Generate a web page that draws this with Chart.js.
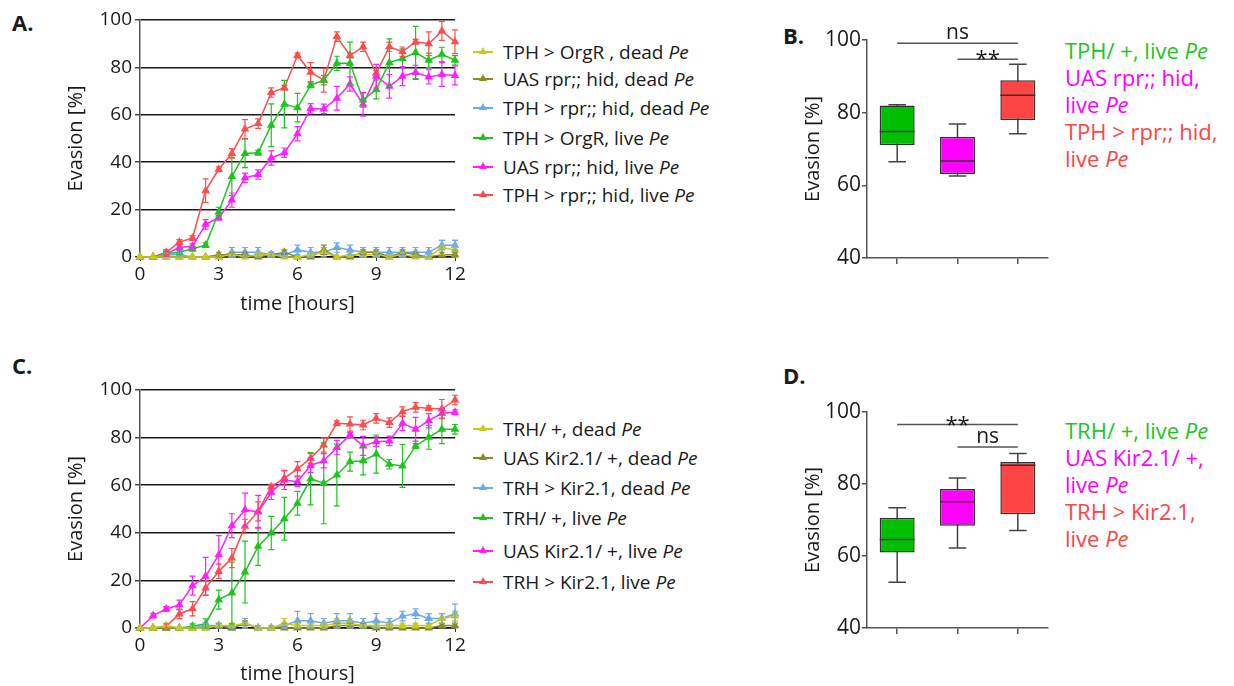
<!DOCTYPE html>
<html>
<head>
<meta charset="utf-8">
<script src="https://cdn.jsdelivr.net/npm/chart.js@4.4.1/dist/chart.umd.min.js"></script>
<style>
  body { margin: 0; width: 1234px; height: 686px; overflow: hidden; background: #fff;
         font-family: 'Open Sans', sans-serif; color: #1a1a1a; position: relative; }
  canvas { position: absolute; }
  .tag { position: absolute; font-weight: bold; font-size: 22px; line-height: 22px; }
  .legend { position: absolute; font-size: 19px; }
  .legend .row { position: absolute; left: 0; display: flex; align-items: center; white-space: nowrap; height: 28px; }
  .mk { position: relative; width: 20px; height: 1.5px; margin-right: 10px; }
  .mk::after { content: ''; position: absolute; left: 6px; top: -4px;
               border-left: 4px solid transparent; border-right: 4px solid transparent;
               border-bottom: 7px solid currentColor; }
  .boxlegend { position: absolute; left: 1065px; font-size: 22px; line-height: 27px; white-space: nowrap; }
</style>
</head>
<body>
<div class="tag" style="left:12px; top:11px;">A.</div>
<div class="tag" style="left:783px; top:24px;">B.</div>
<div class="tag" style="left:12px; top:354px;">C.</div>
<div class="tag" style="left:783px; top:364px;">D.</div>

<canvas id="chartA" width="470" height="320" style="left:0; top:0;"></canvas>
<canvas id="chartC" width="470" height="320" style="left:0; top:370px;"></canvas>
<canvas id="chartB" width="280" height="290" style="left:780px; top:0;"></canvas>
<canvas id="chartD" width="280" height="290" style="left:780px; top:370px;"></canvas>

<div class="legend" id="legendA" style="left:473px; top:38px;"></div>
<div class="legend" id="legendC" style="left:473px; top:415px;"></div>
<div class="boxlegend" id="legendB" style="top:37px;"></div>
<div class="boxlegend" id="legendD" style="top:417px;"></div>

<script>
// time points (hours)
const timeH = [0, 0.5, 1, 1.5, 2, 2.5, 3, 3.5, 4, 4.5, 5, 5.5, 6, 6.5, 7, 7.5, 8, 8.5, 9, 9.5, 10, 10.5, 11, 11.5, 12];
const xTicks = [0, 3, 6, 9, 12];
const yTicksLine = [0, 20, 40, 60, 80, 100];
const yTicksBox = [40, 60, 80, 100];

const seriesColors = ['#c8c81e', '#8b8b25', '#6aaaf2', '#1fc41f', '#ff1fff', '#ff4d4d'];

// panel A
const aNames = ['TPH > OrgR , dead', 'UAS rpr;; hid, dead', 'TPH > rpr;; hid, dead',
                'TPH > OrgR, live', 'UAS rpr;; hid, live', 'TPH > rpr;; hid, live'];
const aYellow  = [0,0,0,0,0,0,0,1,0,1,1,0,0,1,2,0,1,1,1,0,1,0,0,4,3];
const aOlive   = [0,0,0,0,0,0,1,1,1,0,1,2,0,0,3,0,0,2,2,0,2,1,0,1,1];
const aBlue    = [0,0,1,1,0,0,0,2,2,2,1,1,3,2,2,4,3,2,2,2,2,2,2,5,5];
const aGreen   = [0,0,1.4,2,3.5,5,19,34,43.7,44,55.6,64.5,63,72.5,74.6,81.7,81.7,66.2,70.7,82,83.8,86.3,83,85.5,83];
const aMagenta = [0,0,1.4,4,4.5,13.8,16.6,24,33.4,34.8,41.8,44,52,62.7,62.5,67,73,64.4,76.3,72,76.3,77.9,76,77,76.6];
const aRed     = [0,0,2,6.3,8,28,37,43.7,54,56.3,69.4,71.4,85,78,74.6,93,85,88.7,77.5,88.7,86.6,90.8,90,95.4,90.8];
const aYellowErr  = [0,0,0,0,0,0,0,1,0,1,1,0,0,1,2,0,1,1,1,0,1,0,0,3,4];
const aOliveErr   = [0,0,0,0,0,0,1,1,1,0,1,1,0,0,2,0,0,1,1,0,1,1,0,1,1];
const aBlueErr    = [0,0,2,2,0,0,0,2,2,2,1,1,2,2,2,2,2,2,2,2,2,2,2,2,2];
const aGreenErr   = [0,0,1,1,1,1,2,8,6,1,9,10,6,1,2,3,9,3,4,10,4,11,3,3,2];
const aMagentaErr = [0,0,1,1,1,2,1,3,2,2,3,2,3,2,2,5,3,5,5,5,4,3,3,5,4];
const aRedErr     = [0,0,1,1,1,5,1,2,4,2,2,1,1,4,5,2,1,2,1,2,2,1,5,4,5];

// panel C
const cNames = ['TRH/ +, dead', 'UAS Kir2.1/ +, dead', 'TRH > Kir2.1, dead',
                'TRH/ +, live', 'UAS Kir2.1/ +, live', 'TRH > Kir2.1, live'];
const cYellow  = [0,0,1,0,0,0,1,1,2,0,0,2,1,1,1,2,2,1,1,1,1,1,1,4,5];
const cOlive   = [0,0,0,0,0,0,1,0,2,0,0,0,0,0,0,1,1,1,0,0,0,0,0,1,1];
const cBlue    = [0,0,0,0,0,1,1,0,2,0,0,1,3,3,2,3,3,2,3,2,5,6,4,4,6];
const cGreen   = [0,0,0,0,0.7,1.8,11.9,14.7,23.5,34.3,39.9,45.9,52.4,62.7,60.8,64.3,69.9,70.3,73.1,68.8,68.1,76.5,80.1,83.5,83.5];
const cMagenta = [0,5.2,8,9.7,17.8,21.7,30.8,43,49.7,48.7,57,62.2,61.5,68.3,70.3,75.8,81.1,76.5,78.3,78.6,86,83.5,87.1,90.2,90.6];
const cRed     = [0,0,0.7,5.9,8.1,16.8,23.8,29.4,42.7,49,59.4,63,66.9,71.3,76.9,86,85.7,85.3,88.1,86.3,90.9,92.7,92.3,92,95.8];
const cYellowErr  = [0,0,1,0,0,0,1,1,2,0,0,2,1,1,1,2,2,1,1,1,1,1,1,2,2];
const cOliveErr   = [0,0,0,0,0,0,1,0,1,0,0,0,0,0,0,1,1,1,0,0,0,0,0,1,1];
const cBlueErr    = [0,0,0,0,0,1,1,1,2,1,1,1,4,3,2,3,3,2,3,2,2,2,2,2,4];
const cGreenErr   = [0,0,0,0,1,2,4,13,13,8,7,9,5,11,17,13,4,6,8,2,9,1,5,6,2];
const cMagentaErr = [0,1,1,2,4,8,8,5,7,7,3,4,2,3,3,3,1,4,2,2,3,5,3,2,1];
const cRedErr     = [0,0,1,2,3,3,3,4,3,4,1,3,3,2,3,1,3,2,2,2,2,2,1,4,2];

// panel B box plots
const bGroups = ['TPH/ +, live Pe', 'UAS rpr;; hid, live Pe', 'TPH > rpr;; hid, live Pe'];
const bMin = [66.5, 62.6, 74.2];
const bQ1  = [71.0, 63.1, 78.0];
const bMed = [74.8, 66.7, 84.8];
const bQ3  = [82.0, 73.4, 88.9];
const bMax = [82.2, 76.9, 93.3];
const bSigFrom = [0, 1];
const bSigTo = [2, 2];
const bSigLevel = [99.1, 94.7];
const bSigText = ['ns', '**'];

// panel D box plots
const dGroups = ['TRH/ +, live Pe', 'UAS Kir2.1/ +, live Pe', 'TRH > Kir2.1, live Pe'];
const dMin = [52.7, 62.2, 67.1];
const dQ1  = [61.0, 68.4, 71.6];
const dMed = [64.6, 75.1, 85.2];
const dQ3  = [70.6, 78.6, 86.1];
const dMax = [73.4, 81.7, 88.5];
const dSigFrom = [0, 1];
const dSigTo = [2, 2];
const dSigLevel = [96.5, 90.3];
const dSigText = ['**', 'ns'];

const boxColors = ['#00bf00', '#ff00ff', '#ff4444'];
const boxLegendColors = ['#1fc41f', '#ff00ff', '#ff4444'];

Chart.defaults.font.family = "'Open Sans', sans-serif";
Chart.defaults.color = '#1a1a1a';

const errorBars = {
  id: 'errorBars',
  afterDatasetsDraw(chart) {
    const { ctx, scales: { x, y } } = chart;
    chart.data.datasets.forEach(ds => {
      ctx.save();
      ctx.strokeStyle = ds.borderColor;
      ctx.lineWidth = 1.2;
      ds.data.forEach((p, i) => {
        const e = ds.err[i];
        if (!e) return;
        const px = x.getPixelForValue(p.x);
        const top = y.getPixelForValue(p.y + e);
        const bot = y.getPixelForValue(Math.max(0, p.y - e));
        ctx.beginPath();
        ctx.moveTo(px, top); ctx.lineTo(px, bot);
        ctx.moveTo(px - 3, top); ctx.lineTo(px + 3, top);
        ctx.moveTo(px - 3, bot); ctx.lineTo(px + 3, bot);
        ctx.stroke();
      });
      ctx.restore();
    });
  }
};

function lineChart(id, values, errs, yPadTop, xHeight) {
  const datasets = values.map((vals, k) => ({
    data: timeH.map((t, i) => ({ x: t, y: vals[i] })),
    err: errs[k],
    borderColor: seriesColors[k],
    backgroundColor: seriesColors[k],
    pointBackgroundColor: seriesColors[k],
    pointBorderColor: seriesColors[k],
    borderWidth: 1.5,
    pointStyle: 'triangle',
    pointRadius: 3.5,
    tension: 0,
    clip: false
  }));
  return new Chart(document.getElementById(id), {
    type: 'line',
    data: { datasets },
    plugins: [errorBars],
    options: {
      responsive: false,
      animation: false,
      layout: { padding: { left: 60, right: 15, top: yPadTop, bottom: 0 } },
      plugins: { legend: { display: false }, tooltip: { enabled: false } },
      scales: {
        x: {
          type: 'linear', min: 0, max: 12,
          afterBuildTicks: s => { s.ticks = xTicks.map(v => ({ value: v })); },
          grid: { drawOnChartArea: false, tickLength: 4, color: '#333' },
          border: { color: '#111', width: 1.5 },
          ticks: { font: { size: 19 }, padding: 2, maxRotation: 0 },
          title: { display: true, text: 'time [hours]', font: { size: 20 }, padding: { top: 0, bottom: 4 } },
          afterFit: s => { s.height = xHeight; }
        },
        y: {
          min: 0, max: 100,
          afterBuildTicks: s => { s.ticks = yTicksLine.map(v => ({ value: v })); },
          grid: { color: '#1a1a1a', lineWidth: 1.5, tickLength: 5, tickColor: '#444' },
          border: { color: '#555', width: 1.5 },
          ticks: { font: { size: 19 }, padding: 3 },
          title: { display: true, text: 'Evasion [%]', font: { size: 20 }, padding: { top: 4, bottom: 0 } },
          afterFit: s => { s.width = 80; }
        }
      }
    }
  });
}

lineChart('chartA', [aYellow, aOlive, aBlue, aGreen, aMagenta, aRed],
  [aYellowErr, aOliveErr, aBlueErr, aGreenErr, aMagentaErr, aRedErr], 20, 63);
lineChart('chartC', [cYellow, cOlive, cBlue, cGreen, cMagenta, cRed],
  [cYellowErr, cOliveErr, cBlueErr, cGreenErr, cMagentaErr, cRedErr], 20, 62);

function boxPlugin(mins, meds, maxs, sigFrom, sigTo, sigLevel, sigText) {
  return {
    id: 'boxParts',
    beforeDatasetsDraw(chart) {
      const { ctx, scales: { y } } = chart;
      const bars = chart.getDatasetMeta(0).data;
      ctx.save();
      ctx.strokeStyle = '#444';
      ctx.lineWidth = 1.5;
      bars.forEach((bar, i) => {
        const hw = bar.width / 4;
        const yMax = y.getPixelForValue(maxs[i]);
        const yMin = y.getPixelForValue(mins[i]);
        ctx.beginPath();
        ctx.moveTo(bar.x, yMax); ctx.lineTo(bar.x, yMin);
        ctx.moveTo(bar.x - hw, yMax); ctx.lineTo(bar.x + hw, yMax);
        ctx.moveTo(bar.x - hw, yMin); ctx.lineTo(bar.x + hw, yMin);
        ctx.stroke();
      });
      ctx.restore();
    },
    afterDatasetsDraw(chart) {
      const { ctx, scales: { x, y } } = chart;
      const bars = chart.getDatasetMeta(0).data;
      ctx.save();
      ctx.strokeStyle = '#333';
      ctx.lineWidth = 1.5;
      bars.forEach((bar, i) => {
        const ym = y.getPixelForValue(meds[i]);
        ctx.beginPath();
        ctx.moveTo(bar.x - bar.width / 2, ym); ctx.lineTo(bar.x + bar.width / 2, ym);
        ctx.stroke();
      });
      ctx.strokeStyle = '#555';
      ctx.fillStyle = '#1a1a1a';
      ctx.textAlign = 'center';
      ctx.textBaseline = 'alphabetic';
      sigFrom.forEach((f, k) => {
        const x1 = x.getPixelForValue(f);
        const x2 = x.getPixelForValue(sigTo[k]);
        const yy = y.getPixelForValue(sigLevel[k]);
        ctx.beginPath();
        ctx.moveTo(x1, yy); ctx.lineTo(x2, yy);
        ctx.stroke();
        if (sigText[k] === '**') {
          ctx.font = "22px 'Open Sans'";
          ctx.fillText(sigText[k], (x1 + x2) / 2, yy + 7);
        } else {
          ctx.font = "21px 'Open Sans'";
          ctx.fillText(sigText[k], (x1 + x2) / 2, yy - 4);
        }
      });
      ctx.restore();
    }
  };
}

function boxChart(id, groups, mins, q1s, meds, q3s, maxs, sigFrom, sigTo, sigLevel, sigText, padTop) {
  return new Chart(document.getElementById(id), {
    type: 'bar',
    data: {
      labels: groups,
      datasets: [{
        data: q1s.map((q, i) => [q, q3s[i]]),
        backgroundColor: boxColors,
        borderColor: '#333',
        borderWidth: 1.5,
        borderSkipped: false,
        barPercentage: 0.58,
        categoryPercentage: 1
      }]
    },
    plugins: [boxPlugin(mins, meds, maxs, sigFrom, sigTo, sigLevel, sigText)],
    options: {
      responsive: false,
      animation: false,
      layout: { padding: { left: 17, right: 12, top: padTop, bottom: 0 } },
      plugins: { legend: { display: false }, tooltip: { enabled: false } },
      scales: {
        x: {
          grid: { offset: false, drawOnChartArea: false, tickLength: 6, color: '#555', lineWidth: 1.5 },
          border: { color: '#555', width: 1.5 },
          ticks: { display: false },
          afterFit: s => { s.height = 32; }
        },
        y: {
          min: 40, max: 100,
          afterBuildTicks: s => { s.ticks = yTicksBox.map(v => ({ value: v })); },
          grid: { drawOnChartArea: false, tickLength: 5, color: '#555', lineWidth: 1.5 },
          border: { color: '#555', width: 1.5 },
          ticks: { font: { size: 21 }, padding: 1 },
          title: { display: true, text: 'Evasion [%]', font: { size: 20 }, padding: { top: 4, bottom: 0 } },
          afterFit: s => { s.width = 70; }
        }
      }
    }
  });
}

boxChart('chartB', bGroups, bMin, bQ1, bMed, bQ3, bMax, bSigFrom, bSigTo, bSigLevel, bSigText, 40);
boxChart('chartD', dGroups, dMin, dQ1, dMed, dQ3, dMax, dSigFrom, dSigTo, dSigLevel, dSigText, 42);

// legends for the time course panels
function lineLegend(elId, names, rowTops) {
  const el = document.getElementById(elId);
  names.forEach((n, k) => {
    const row = document.createElement('div');
    row.className = 'row';
    row.style.top = rowTops[k] + 'px';
    row.innerHTML = '<span class="mk" style="color:' + seriesColors[k] + ';background:' + seriesColors[k] +
      '"></span><span>' + n + ' <i>Pe</i></span>';
    el.appendChild(row);
  });
}
lineLegend('legendA', aNames, [0, 27, 56, 86, 115, 143]);
lineLegend('legendC', cNames, [0, 29, 59, 89, 122, 153]);

// legends for the box panels
function boxLegend(elId, lines) {
  const el = document.getElementById(elId);
  el.innerHTML = lines.map((l, k) => '<div style="color:' + boxLegendColors[k] + '">' + l + '</div>').join('');
}
boxLegend('legendB', ['TPH/ +, live <i>Pe</i>', 'UAS rpr;; hid,<br>live <i>Pe</i>', 'TPH &gt; rpr;; hid,<br>live <i>Pe</i>']);
boxLegend('legendD', ['TRH/ +, live <i>Pe</i>', 'UAS Kir2.1/ +,<br>live <i>Pe</i>', 'TRH &gt; Kir2.1,<br>live <i>Pe</i>']);
</script>
</body>
</html>
